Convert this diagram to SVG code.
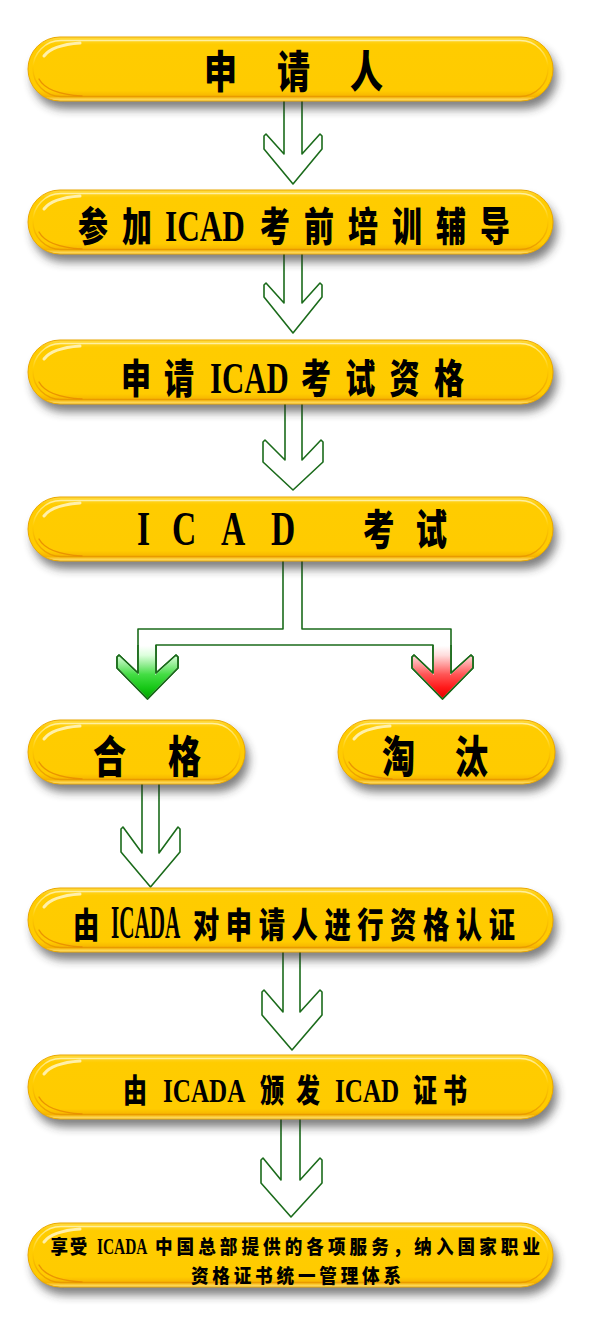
<svg xmlns="http://www.w3.org/2000/svg" width="591" height="1338" viewBox="0 0 591 1338">
<style>
.c{font-family:"Noto Sans CJK SC","Noto Sans CJK JP",sans-serif;font-weight:900;fill:#000}
.l{font-family:"Liberation Serif","Times New Roman",serif;font-weight:bold;fill:#000}
.bs{fill:#2a2a2a;opacity:.6;filter:url(#blur)}
.bf{fill:url(#yg);stroke:#EBA800;stroke-width:1}
.bi{fill:none;stroke:url(#ig);stroke-width:1.4}
.g1{fill:none;stroke:#FFF6C8;stroke-width:3;stroke-linecap:round;opacity:.85}
.g2{fill:none;stroke:#E88E00;stroke-width:1.4;stroke-linecap:round;opacity:.9}
.ar{fill:#fff;stroke:#1B6B1B;stroke-width:1.6;stroke-linejoin:round}
</style>
<defs>
<filter id="blur" x="-10%" y="-50%" width="120%" height="200%"><feGaussianBlur stdDeviation="5"/></filter>
<linearGradient id="yg" x1="0" y1="0" x2="0" y2="1">
<stop offset="0" stop-color="#FFDA40"/><stop offset=".12" stop-color="#FFCC00"/><stop offset=".84" stop-color="#FFCB00"/><stop offset=".93" stop-color="#F6B400"/><stop offset="1" stop-color="#FFE680"/>
</linearGradient>
<linearGradient id="ig" x1="0" y1="0" x2="0" y2="1">
<stop offset="0" stop-color="#FFF0A0"/><stop offset=".45" stop-color="#FFCC00"/><stop offset="1" stop-color="#E99A00"/>
</linearGradient>
<linearGradient id="gg" x1="0" y1="0" x2="0" y2="1">
<stop offset="0" stop-color="#FFFFFF"/><stop offset=".18" stop-color="#DDFFDD"/><stop offset=".35" stop-color="#99EE99"/><stop offset=".55" stop-color="#44DD44"/><stop offset=".8" stop-color="#18C818"/><stop offset="1" stop-color="#00A800"/>
</linearGradient>
<linearGradient id="rg" x1="0" y1="0" x2="0" y2="1">
<stop offset="0" stop-color="#FFFFFF"/><stop offset=".18" stop-color="#FFDDDD"/><stop offset=".35" stop-color="#FFA0A0"/><stop offset=".55" stop-color="#FF5555"/><stop offset=".8" stop-color="#FF1A1A"/><stop offset="1" stop-color="#E80000"/>
</linearGradient>
<g id="fb">
<rect class="bs" x="32" y="8" width="525" height="64" rx="32"/>
<rect class="bf" x="28" y="0" width="525" height="64" rx="32"/>
<rect class="bi" x="33" y="3.5" width="515" height="56" rx="28"/>
<path class="g1" d="M44,19 Q52,8 80,6"/>
<path class="g2" d="M39,42 Q47,57 82,59"/>
</g>
<g id="sb">
<rect class="bs" x="4" y="8" width="217" height="64" rx="32"/>
<rect class="bf" x="0" y="0" width="217" height="64" rx="32"/>
<rect class="bi" x="5" y="3.5" width="207" height="56" rx="28"/>
<path class="g1" d="M16,19 Q24,8 52,6"/>
<path class="g2" d="M11,42 Q19,57 54,59"/>
</g>
</defs>
<rect width="591" height="1338" fill="#fff"/>
<g id="connectors">
<path class="ar" d="M284,101 V154 L266,134 L264,136 V149 L293,184 L322,149 V136 L320,134 L302,154 V101"/>
<path class="ar" d="M284,254 V303 L266,283 L264,285 V297 L293,333 L322,297 V285 L320,283 L302,303 V254"/>
<path class="ar" d="M285,404 V460 L265,440 L263,442 V462 L293,490 L323,462 V442 L321,440 L302,460 V404"/>
<path class="ar" d="M283,561 V629 H138 V673 L119,655 L117,657 V668 L147.5,699 L178,668 V657 L176,655 L156,673 V645 H433 V673 L414,655 L412,657 V668 L442.5,699 L473,668 V657 L471,655 L451,673 V629 H302 V561"/>
<path fill="url(#gg)" d="M138.8,645.8 H155.2 V675 L176,656 L177.2,657.5 V667.6 L147.5,698 L117.8,667.6 V657.5 L119,656 L138.8,675 Z"/>
<path fill="url(#rg)" d="M433.8,645.8 H450.2 V675 L471,656 L472.2,657.5 V667.6 L442.5,698 L412.8,667.6 V657.5 L414,656 L433.8,675 Z"/>
<path fill="none" stroke="#1B6B1B" stroke-width="1.6" stroke-linejoin="round" d="M138,645 V673 L119,655 L117,657 V668 L147.5,699 L178,668 V657 L176,655 L156,673 V645 M433,645 V673 L414,655 L412,657 V668 L442.5,699 L473,668 V657 L471,655 L451,673 V645"/>
<path class="ar" d="M142,784 V853 L123,827 L121,829 V852 L150.5,887 L180,852 V829 L178,827 L159,853 V784"/>
<path class="ar" d="M283,952 V1012 L264,990 L262,992 V1015 L292,1050 L322,1015 V992 L320,990 L300,1012 V952"/>
<path class="ar" d="M281,1119 V1180 L263,1158 L261,1160 V1183 L291,1217 L322,1183 V1160 L320,1158 L300,1180 V1119"/>
</g>
<g id="n1">
<use href="#fb" y="37"/>
<text class="c" transform="scale(.75,1)" x="272" y="88" font-size="44" textLength="238.7" lengthAdjust="spacing">申请人</text>
</g>
<g id="n2">
<use href="#fb" y="190"/>
<text class="c" transform="scale(.75,1)" x="104" y="241" font-size="40" textLength="98.7" lengthAdjust="spacing">参加</text>
<text class="l" transform="scale(.71,1)" x="232.4" y="241" font-size="44">ICAD</text>
<text class="c" transform="scale(.75,1)" x="346.7" y="241" font-size="40" textLength="333.3" lengthAdjust="spacing">考前培训辅导</text>
</g>
<g id="n3">
<use href="#fb" y="340"/>
<text class="c" transform="scale(.75,1)" x="161.3" y="393" font-size="40" textLength="97.3" lengthAdjust="spacing">申请</text>
<text class="l" transform="scale(.70,1)" x="300" y="393" font-size="44">ICAD</text>
<text class="c" transform="scale(.75,1)" x="401.3" y="393" font-size="40" textLength="217.3" lengthAdjust="spacing">考试资格</text>
</g>
<g id="n4">
<use href="#fb" y="497"/>
<text class="l" transform="scale(.70,1)" x="195.7 245.7 315.7 387.1" y="545" font-size="48">ICAD</text>
<text class="c" transform="scale(.75,1)" x="484" y="545" font-size="42" textLength="112" lengthAdjust="spacing">考试</text>
</g>
<g id="n5">
<use href="#sb" x="28" y="720"/>
<text class="c" transform="scale(.75,1)" x="124" y="773" font-size="44" textLength="144" lengthAdjust="spacing">合格</text>
</g>
<g id="n6">
<use href="#sb" x="338" y="720"/>
<text class="c" transform="scale(.75,1)" x="509.3" y="773" font-size="44" textLength="141.3" lengthAdjust="spacing">淘汰</text>
</g>
<g id="n7">
<use href="#fb" y="888"/>
<text class="c" transform="scale(.75,1)" x="97.3" y="938" font-size="35">由</text>
<text class="l" transform="scale(.46,1)" x="241.3" y="938" font-size="46">ICADA</text>
<text class="c" transform="scale(.75,1)" x="257.3" y="938" font-size="35" textLength="429.3" lengthAdjust="spacing">对申请人进行资格认证</text>
</g>
<g id="n8">
<use href="#fb" y="1055"/>
<text class="c" transform="scale(.75,1)" x="164" y="1102" font-size="32">由</text>
<text class="l" transform="scale(.74,1)" x="220.3" y="1102" font-size="34">ICADA</text>
<text class="c" transform="scale(.75,1)" x="346.7" y="1102" font-size="32" textLength="80" lengthAdjust="spacing">颁发</text>
<text class="l" transform="scale(.74,1)" x="452.7" y="1102" font-size="34">ICAD</text>
<text class="c" transform="scale(.75,1)" x="550.7" y="1102" font-size="32" textLength="72" lengthAdjust="spacing">证书</text>
</g>
<g id="n9">
<use href="#fb" y="1223"/>
<text class="c" transform="scale(.9,1)" x="56" y="1254.5" font-size="19.5" letter-spacing="2">享受</text>
<text class="l" transform="scale(.67,1)" x="144.8" y="1254.5" font-size="23">ICADA</text>
<text class="c" transform="scale(.9,1)" x="172.2" y="1254.5" font-size="19.5" textLength="427.8" lengthAdjust="spacing">中国总部提供的各项服务，纳入国家职业</text>
<text class="c" transform="scale(.9,1)" x="212.2" y="1283.5" font-size="19.5" textLength="233.3" lengthAdjust="spacing">资格证书统一管理体系</text>
</g>
</svg>
